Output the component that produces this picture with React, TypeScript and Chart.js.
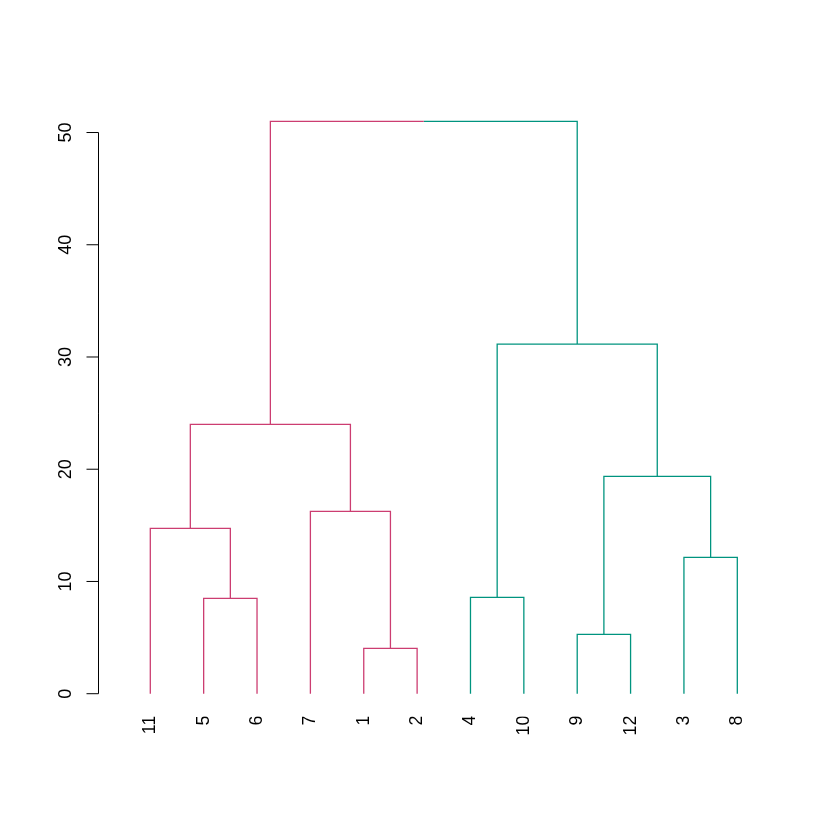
import React, { useEffect, useRef } from "react";
import { Chart, registerables } from "chart.js";

Chart.register(...registerables);

// Leaves in dendrogram order (left to right)
const leafLabels = ["11", "5", "6", "7", "1", "2", "4", "10", "9", "12", "3", "8"];
// Cluster membership of each leaf (0 = magenta, 1 = teal)
const leafCluster = [0, 0, 0, 0, 0, 0, 1, 1, 1, 1, 1, 1];
const clusterColors = ["#CC3D71", "#00947F"];
// hclust-style merges: negative = leaf position (1-based), positive = earlier merge (1-based)
const mergeLeft = [-5, -9, -2, -7, -11, -1, -4, 2, 6, 4, 9];
const mergeRight = [-6, -10, -3, -8, -12, 3, 1, 5, 7, 8, 10];
const mergeHeight = [4.04, 5.29, 8.5, 8.59, 12.15, 14.73, 16.24, 19.36, 24.0, 31.15, 51.0];
const yTicks = [0, 10, 20, 30, 40, 50];

type NodeInfo = { x: number; h: number; cluster: number };

function buildSegments() {
  const nodes: NodeInfo[] = [];
  const get = (r: number): NodeInfo =>
    r < 0 ? { x: -r, h: 0, cluster: leafCluster[-r - 1] } : nodes[r - 1];
  const pts: { x: number; y: number | null }[][] = clusterColors.map(() => []);
  for (let i = 0; i < mergeHeight.length; i++) {
    const L = get(mergeLeft[i]);
    const R = get(mergeRight[i]);
    const h = mergeHeight[i];
    const xm = (L.x + R.x) / 2;
    const cl = L.cluster < 0 ? 0 : L.cluster;
    const cr = R.cluster < 0 ? 0 : R.cluster;
    pts[cl].push({ x: L.x, y: L.h }, { x: L.x, y: h }, { x: xm, y: h }, { x: xm, y: null });
    pts[cr].push({ x: xm, y: h }, { x: R.x, y: h }, { x: R.x, y: R.h }, { x: R.x, y: null });
    nodes.push({ x: xm, h, cluster: L.cluster === R.cluster ? L.cluster : -1 });
  }
  return pts;
}

const FONT = "'Liberation Sans', Arial, Helvetica, sans-serif";
const FONT_SIZE = 18;

const yAxisPlugin = {
  id: "rYAxis",
  afterDraw(chart: any) {
    const ctx = chart.ctx;
    const ys = chart.scales.y;
    const ax = Math.round(chart.chartArea.left) + 0.5;
    ctx.save();
    ctx.strokeStyle = "#000";
    ctx.lineWidth = 1;
    ctx.beginPath();
    const y0 = ys.getPixelForValue(yTicks[0]);
    const y1 = ys.getPixelForValue(yTicks[yTicks.length - 1]);
    ctx.moveTo(ax, y0);
    ctx.lineTo(ax, y1);
    for (const t of yTicks) {
      const py = ys.getPixelForValue(t);
      ctx.moveTo(ax, py);
      ctx.lineTo(ax - 12, py);
    }
    ctx.stroke();
    ctx.fillStyle = "#000";
    ctx.font = `${FONT_SIZE}px ${FONT}`;
    ctx.textAlign = "center";
    ctx.textBaseline = "alphabetic";
    for (const t of yTicks) {
      const py = ys.getPixelForValue(t);
      ctx.save();
      ctx.translate(ax - 28, py);
      ctx.rotate(-Math.PI / 2);
      ctx.fillText(String(t), 0, 0);
      ctx.restore();
    }
    ctx.restore();
  },
};

export default function App() {
  const ref = useRef<HTMLCanvasElement | null>(null);
  useEffect(() => {
    if (!ref.current) return;
    const pts = buildSegments();
    const chart = new Chart(ref.current, {
      type: "scatter",
      data: {
        datasets: clusterColors.map((c, i) => ({
          data: pts[i] as any,
          showLine: true,
          spanGaps: false,
          borderColor: c,
          backgroundColor: c,
          borderWidth: 1.3,
          pointRadius: 0,
          pointHoverRadius: 0,
        })),
      },
      options: {
        responsive: false,
        animation: false,
        events: [],
        layout: { padding: { left: 98, right: 50.4, top: 98.4, bottom: 63.4 } },
        plugins: { legend: { display: false }, tooltip: { enabled: false } },
        scales: {
          x: {
            type: "linear",
            min: 0.02,
            max: 12.98,
            grid: { display: false },
            border: { display: false },
            afterBuildTicks: (s: any) => {
              s.ticks = leafLabels.map((_, i) => ({ value: i + 1 }));
            },
            afterFit: (s: any) => {
              s.height = 60;
            },
            ticks: {
              autoSkip: false,
              minRotation: 90,
              maxRotation: 90,
              padding: -9,
              color: "#000",
              font: { size: FONT_SIZE, family: FONT },
              callback: (v: any) => leafLabels[Math.round(Number(v)) - 1] ?? "",
            },
          },
          y: {
            type: "linear",
            min: -2.04,
            max: 53.04,
            display: false,
          },
        },
      },
      plugins: [yAxisPlugin],
    });
    return () => chart.destroy();
  }, []);
  return (
    <div style={{ position: "absolute", left: 0, top: 0, width: 840, height: 840, background: "#fff" }}>
      <canvas ref={ref} width={840} height={840} />
    </div>
  );
}
